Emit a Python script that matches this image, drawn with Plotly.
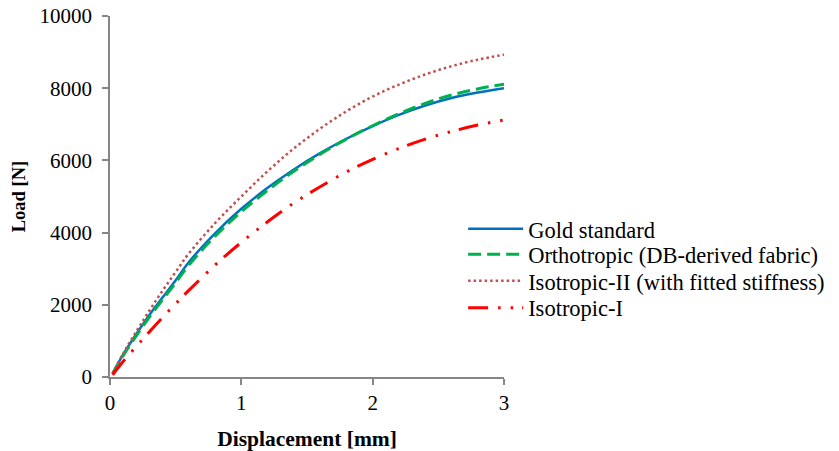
import plotly.graph_objects as go

x = [0.02, 0.1, 0.2, 0.3, 0.4, 0.5, 0.6, 0.8, 1.0, 1.2, 1.4, 1.6, 1.8, 2.0, 2.2, 2.4, 2.6, 2.8, 3.0]
gold = [100, 620, 1190, 1720, 2200, 2680, 3180, 3980, 4660, 5240, 5750, 6200, 6600, 6950, 7260, 7520, 7730, 7880, 8000]
ortho = [90, 590, 1140, 1660, 2140, 2610, 3100, 3900, 4580, 5170, 5700, 6170, 6590, 6960, 7290, 7580, 7810, 7980, 8110]
iso2 = [100, 650, 1260, 1840, 2390, 2910, 3420, 4260, 5000, 5700, 6330, 6880, 7360, 7770, 8100, 8380, 8610, 8790, 8930]
iso1 = [60, 430, 850, 1250, 1650, 2030, 2400, 3100, 3730, 4300, 4820, 5270, 5680, 6030, 6330, 6590, 6800, 6980, 7120]

names = ["Gold standard", "Orthotropic (DB-derived fabric)", "Isotropic-II (with fitted stiffness)", "Isotropic-I"]
colors = ["#0070C0", "#00B050", "#C0504D", "#FF0000"]
dashes = ["solid", "13px,6px", "2.5px,3px", "20px,10px,2.5px,10px,2.5px,9px"]
widths = [2.5, 3, 2.5, 3]
series = [gold, ortho, iso2, iso1]
legend_ids = ["legend", "legend2", "legend3", "legend4"]
legend_y = [0.492, 0.4356, 0.3767, 0.3169]

xticks = [0, 1, 2, 3]
yticks = [0, 2000, 4000, 6000, 8000, 10000]

font = "Liberation Serif, serif"

fig = go.Figure()
for n, ys, c, d, w, lg in zip(names, series, colors, dashes, widths, legend_ids):
    fig.add_trace(go.Scatter(x=x, y=ys, mode="lines", name=n, legend=lg,
                             line=dict(color=c, dash=d, width=w, shape="spline")))

legend_style = dict(x=0.552, xref="container", yref="container", xanchor="left", yanchor="middle",
                    font=dict(family=font, size=22.5, color="black"),
                    itemwidth=55, bgcolor="rgba(0,0,0,0)", borderwidth=0)

layout_legends = {}
for lg, ly in zip(legend_ids, legend_y):
    layout_legends[lg] = dict(legend_style, y=ly)

axis_common = dict(showgrid=False, zeroline=False, showline=True, linecolor="#868686", linewidth=1.5,
                   ticks="outside", ticklen=6, tickcolor="#868686", tickwidth=1.5, automargin=False,
                   tickfont=dict(family=font, size=21, color="black"))

fig.update_layout(
    width=839, height=451,
    margin=dict(l=110, r=335, t=16, b=74, autoexpand=False),
    paper_bgcolor="white", plot_bgcolor="white",
    font=dict(family=font, size=21, color="black"),
    showlegend=True,
    xaxis=dict(axis_common, range=[0, 3], tickvals=xticks, ticktext=[str(v) for v in xticks],
               title=dict(text="<b>Displacement [mm]</b>", font=dict(family=font, size=21.5), standoff=17)),
    yaxis=dict(axis_common, range=[0, 10000], tickvals=yticks, ticktext=[str(v) for v in yticks],
               ticklabelstandoff=6,
               title=dict(text="<b>Load [N]</b>", font=dict(family=font, size=18.5), standoff=9)),
    **layout_legends,
)

fig.write_html("out.html")
